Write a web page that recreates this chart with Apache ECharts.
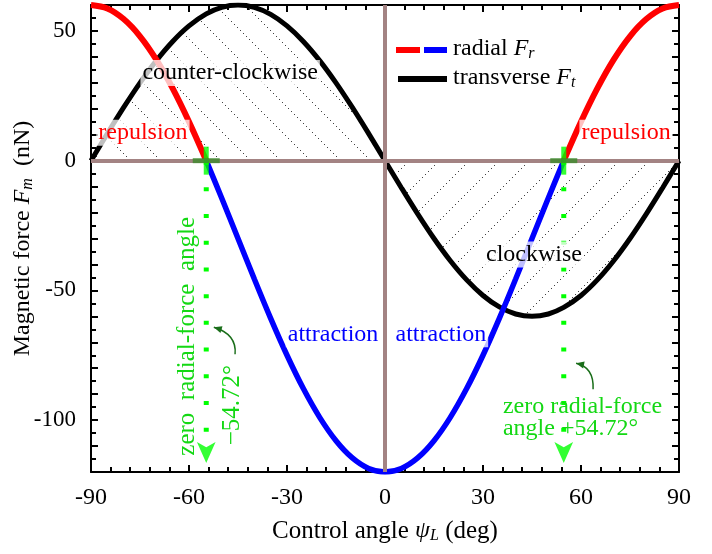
<!DOCTYPE html>
<html>
<head>
<meta charset="utf-8">
<script src="https://cdn.jsdelivr.net/npm/echarts@6/dist/echarts.min.js"></script>
<style>html,body{margin:0;background:#fff}#chart{width:712px;height:554px}</style>
</head>
<body>
<div id="chart"></div>
<script>
// control angle (deg) and the two force components (nN)
const psi = [-90,-85,-80,-75,-70,-65,-60,-54.72,-50,-45,-40,-35,-30,-25,-20,-15,-10,-5,0,
             5,10,15,20,25,30,35,40,45,50,54.72,60,65,70,75,80,85,90]
const fr = [60,58.63,54.57,47.94,38.94,27.85,15,0,-14.37,-30,-45.63,-60.78,-75,-87.85,-98.94,-107.94,-114.57,-118.63,-120,
            -118.63,-114.57,-107.94,-98.94,-87.85,-75,-60.78,-45.63,-30,-14.37,0,15,27.85,38.94,47.94,54.57,58.63,60]
const ft = [0,10.42,20.52,30,38.57,45.96,51.96,56.57,59.09,60,59.09,56.38,51.96,45.96,38.57,30,20.52,10.42,0,
            -10.42,-20.52,-30,-38.57,-45.96,-51.96,-56.38,-59.09,-60,-59.09,-56.57,-51.96,-45.96,-38.57,-30,-20.52,-10.42,0]
const zeroAngles = [-54.72, 54.72]

// text labels inside the plot (data coords)
const labelText = ['counter-clockwise','repulsion','repulsion','attraction','attraction','clockwise']
const labelX = [-47.4, -74.1, 73.8, -15.9, 17.1, 45.6]
const labelY = [33.8, 10.8, 10.8, -66.9, -66.9, -36.2]
const labelColor = ['#000','#ff0000','#ff0000','#0000ff','#0000ff','#000']

const serif = '"Liberation Serif","DejaVu Serif",serif'
const green = '#00ff00'
const textGreen = '#14d814'

function pts(cond, vals){
  const out = []
  psi.forEach((p,i) => { if(cond(p, vals[i])) out.push([p, vals[i]]) })
  return out
}

// dotted diagonal hatching
function hatch(dir){
  const c = document.createElement('canvas')
  c.width = c.height = 30
  const g = c.getContext('2d')
  g.fillStyle = '#444'
  for(let t = 0; t < 30; t += 3){
    const x = dir > 0 ? t : 29 - t
    g.fillRect(x, t, 1, 1)
  }
  return c
}

const tickStyle = {color:'#000', width:2}
function xAx(pos, show){
  return {
    type:'value', min:-90, max:90, interval:30, position:pos,
    axisLine:{onZero:false, lineStyle:tickStyle},
    axisTick:{inside:true, length:7, lineStyle:tickStyle},
    minorTick:{show:true, splitNumber:5, length:5, lineStyle:tickStyle},
    splitLine:{show:false},
    axisLabel:{show:show, fontFamily:serif, fontSize:24, color:'#000', margin:14}
  }
}
function yAx(pos, show){
  return {
    type:'value', min:-120, max:60, interval:10, position:pos,
    axisLine:{onZero:false, lineStyle:tickStyle},
    axisTick:{inside:true, length:7, lineStyle:tickStyle},
    minorTick:{show:true, splitNumber:2, length:5, lineStyle:tickStyle},
    splitLine:{show:false},
    axisLabel:{show:show, fontFamily:serif, fontSize:23, color:'#000', margin:15,
      formatter: v => v % 50 === 0 ? String(v) : ''}
  }
}

const nameRich = {
  i:{fontFamily:serif, fontStyle:'italic', fontSize:24, color:'#000'},
  s:{fontFamily:serif, fontStyle:'italic', fontSize:16, color:'#000', padding:[10,0,0,0]}
}

const xMain = xAx('bottom', true)
xMain.name = 'Control angle {i|ψ}{s|L} (deg)'
xMain.nameLocation = 'middle'
xMain.nameGap = 46
xMain.nameTextStyle = {fontFamily:serif, fontSize:25, color:'#000', rich:nameRich}
const yMain = yAx('left', true)
yMain.name = 'Magnetic force {i|F}{s|m}  (nN)'
yMain.nameLocation = 'middle'
yMain.nameGap = 55
yMain.nameMoveOverlap = false
yMain.nameTextStyle = {fontFamily:serif, fontSize:24, color:'#000', rich:nameRich}

const line = (data, color, width, z) => ({
  type:'line', data, symbol:'none', smooth:0.35, z,
  lineStyle:{color, width, cap:'butt'}, silent:true
})

const series = [
  {type:'line', data:pts(p => p <= 0, ft), symbol:'none', smooth:0.35, z:1,
   lineStyle:{width:0, opacity:0}, areaStyle:{color:{image:hatch(1), repeat:'repeat'}, opacity:1},
   markLine:{silent:true, symbol:'none', label:{show:false},
     lineStyle:{color:'#a38383', width:4, type:'solid'}, data:[{yAxis:0},{xAxis:0}]}},
  {type:'line', data:pts(p => p >= 0, ft), symbol:'none', smooth:0.35, z:1,
   lineStyle:{width:0, opacity:0}, areaStyle:{color:{image:hatch(-1), repeat:'repeat'}, opacity:1}},
  line(pts(() => true, ft), '#000', 5, 3),
  line(pts((p,v) => v <= 0 && Math.abs(p) <= 54.72, fr), '#0000ff', 5.5, 4),
  line(pts((p,v) => p < 0 && v >= 0, fr), '#ff0000', 6, 4),
  line(pts((p,v) => p > 0 && v >= 0, fr), '#ff0000', 6, 4)
]
zeroAngles.forEach(a => {
  series.push({type:'line', data:[[a,0],[a,-110]], symbol:'none', z:5, silent:true,
    lineStyle:{color:green, width:5, type:[4,22.7], cap:'butt'}})
})
series.push({type:'scatter', data:zeroAngles.map(a => [a,-116.5]), symbol:'arrow', symbolRotate:180,
  symbolSize:[14,21], itemStyle:{color:green}, z:5, silent:true})
series.push({type:'scatter', data:zeroAngles.map(a => [a,0]), symbol:'rect', symbolSize:[5,28],
  itemStyle:{color:green}, z:6, silent:true})
series.push({type:'scatter', data:zeroAngles.map(a => [a,0]), symbol:'rect', symbolSize:[27,5],
  itemStyle:{color:'#3c8a2c'}, z:7, silent:true})

const chart = echarts.init(document.getElementById('chart'))
chart.setOption({
  animation:false,
  grid:{left:91, right:33, top:5, bottom:82, containLabel:false, outerBoundsMode:'none'},
  xAxis:[xMain, xAx('top', false)],
  yAxis:[yMain, yAx('right', false)],
  series
})

// annotations placed from data coords
const px = (x, y) => chart.convertToPixel({gridIndex:0}, [x, y])
const graphic = []
labelText.forEach((t, i) => {
  const p = px(labelX[i], labelY[i])
  graphic.push({type:'text', z:50, x:p[0], y:p[1], style:{text:t, x:0, y:0, align:'center', verticalAlign:'middle',
    fill:labelColor[i], font:'24px ' + serif, backgroundColor:'rgba(255,255,255,0.75)', padding:[1,2]}})
})
const v1 = px(-60.6, -67.7)
graphic.push({type:'text', z:50, x:v1[0], y:v1[1], rotation:Math.PI/2,
  style:{text:'zero  radial-force  angle', x:0, y:0, align:'center', verticalAlign:'middle', fill:textGreen, font:'25px ' + serif}})
const v2 = px(-46.8, -94.2)
graphic.push({type:'text', z:50, x:v2[0], y:v2[1], rotation:Math.PI/2,
  style:{text:'\u221254.72\u00b0', x:0, y:0, align:'center', verticalAlign:'middle', fill:textGreen, font:'25px ' + serif}})
const r1 = px(36.1, -95.0), r2 = px(36.1, -103.3)
graphic.push({type:'text', z:50, x:r1[0], y:r1[1], style:{text:'zero radial-force', x:0, y:0, verticalAlign:'middle', fill:textGreen, font:'24px ' + serif}})
graphic.push({type:'text', z:50, x:r2[0], y:r2[1], style:{text:'angle +54.72\u00b0', x:0, y:0, verticalAlign:'middle', fill:textGreen, font:'24px ' + serif}})

// little curved arrows pointing at the dotted lines
const arrows = [[[-45.9,-74.6],[-45.3,-66.9],[-52.4,-64.2]], [[63.7,-88.1],[64,-79.6],[58.5,-78.1]]]
arrows.forEach(a => {
  const s = px(...a[0]), c = px(...a[1]), e = px(...a[2])
  graphic.push({type:'bezierCurve', z:50, shape:{x1:s[0], y1:s[1], cpx1:c[0], cpy1:c[1], x2:e[0], y2:e[1]},
    style:{stroke:'#1a6e1a', lineWidth:1.5, fill:null}})
  const ang = Math.atan2(e[1] - c[1], e[0] - c[0])
  const L = 8, W = 3.5
  const bx = e[0] - L * Math.cos(ang), by = e[1] - L * Math.sin(ang)
  graphic.push({type:'polygon', z:50, shape:{points:[[e[0], e[1]],
    [bx + W * Math.sin(ang), by - W * Math.cos(ang)], [bx - W * Math.sin(ang), by + W * Math.cos(ang)]]},
    style:{fill:'#1a6e1a'}})
})

// legend
graphic.push({type:'line', z:50, shape:{x1:396, y1:50, x2:420, y2:50}, style:{stroke:'#ff0000', lineWidth:6}})
graphic.push({type:'line', z:50, shape:{x1:424, y1:50, x2:447, y2:50}, style:{stroke:'#0000ff', lineWidth:6}})
graphic.push({type:'line', z:50, shape:{x1:398, y1:79, x2:447, y2:79}, style:{stroke:'#000', lineWidth:6}})
const legRich = {
  n:{fontFamily:serif, fontSize:24, fill:'#000'},
  i:{fontFamily:serif, fontStyle:'italic', fontSize:24, fill:'#000'},
  s:{fontFamily:serif, fontStyle:'italic', fontSize:16, fill:'#000', padding:[10,0,0,0]}
}
graphic.push({type:'text', z:50, x:453, y:49, style:{text:'{n|radial }{i|F}{s|r}', x:0, y:0, verticalAlign:'middle', rich:legRich}})
graphic.push({type:'text', z:50, x:453, y:78, style:{text:'{n|transverse }{i|F}{s|t}', x:0, y:0, verticalAlign:'middle', rich:legRich}})

chart.setOption({graphic})
</script>
</body>
</html>
